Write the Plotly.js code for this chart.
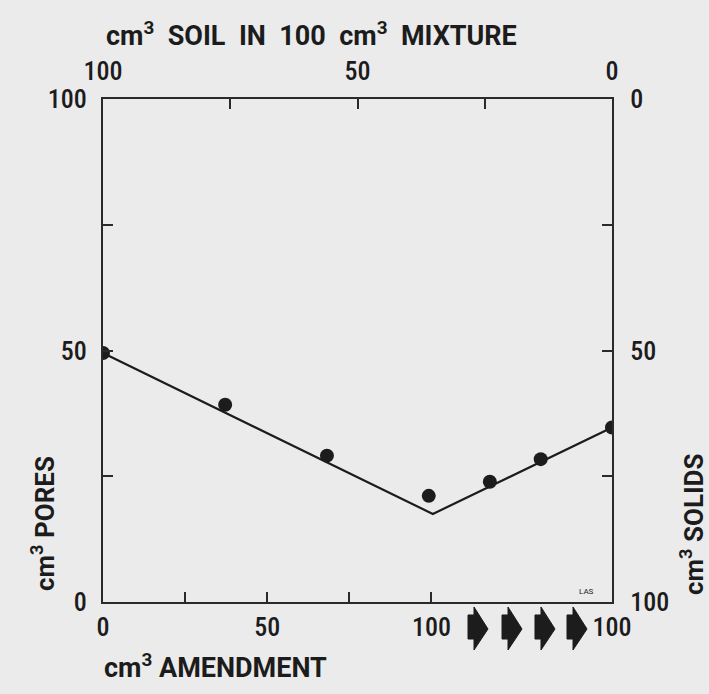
<!DOCTYPE html>
<html>
<head>
<meta charset="utf-8">
<script src="https://cdn.plot.ly/plotly-3.0.1.min.js"></script>
<style>
  html, body { margin: 0; padding: 0; background: #ebebeb; }
  #chart { width: 709px; height: 694px; }
</style>
</head>
<body>
<div id="chart"></div>
<script>
// ---- data ----
// x: cm3 soil in 100 cm3 mixture (top axis), y: cm3 pores (left axis)
const soilPoints  = [100, 76, 56, 36, 24, 14, 0];
const poresPoints = [49.5, 39.2, 29.1, 21.1, 23.9, 28.4, 34.7];
// fitted line
const soilLine  = [100, 35.2, 0];
const poresLine = [49.5, 17.5, 34.7];

// tick labels
const topTickVals   = [100, 50, 0];
const topTickText   = ['100', '50', '0'];
const topMinorVals  = [75, 25];
const amendTickVals = [0, 50, 100, 155];
const amendTickText = ['0', '50', '100', '100'];
const amendMinorVals = [25, 75];
const poreTickVals  = [0, 50, 100];
const poreTickText  = ['0', '50', '100'];
const poreMinorVals = [25, 75];
const solidTickVals = [0, 50, 100];
const solidTickText = ['0', '50', '100'];
const solidMinorVals = [25, 75];

// ---- styling ----
const NUMFONT = '"Roboto Condensed", Roboto, "Liberation Sans", sans-serif';
const TXTFONT = 'Roboto, "Liberation Sans", sans-serif';
const INK = '#1c1c1c';
const BG = '#ebebeb';
const W = 709, H = 694;
const M = {l: 103, r: 97, t: 99, b: 92};
const PW = W - M.l - M.r, PH = H - M.t - M.b;
const px2x = p => (p - M.l) / PW;
const py2y = p => (H - M.b - p) / PH;

// decorative arrows under the bottom axis
const arrowLefts = [468, 502, 535, 567];
const arrowTop = 607;
const arrowOutline = [[0,8],[6,8],[6,0],[20,22],[6,43],[6,32],[0,32]];
const shapes = arrowLefts.map(x0 => {
  const pts = arrowOutline.map(([dx, dy]) => `${px2x(x0 + dx).toFixed(4)},${py2y(arrowTop + dy).toFixed(4)}`);
  return {
    type: 'path', xref: 'paper', yref: 'paper',
    path: 'M' + pts.join(' L') + ' Z',
    fillcolor: INK, line: {color: INK, width: 1}
  };
});

const tickFont = {family: NUMFONT, size: 26, color: INK, weight: 500};
const titleFont = {family: TXTFONT, size: 27, color: INK, weight: 700};
const sideTitleFont = {family: TXTFONT, size: 26, color: INK, weight: 700};

function axis(extra, minorVals) {
  return Object.assign({
    showgrid: false, zeroline: false, showline: true,
    linecolor: '#2a2a2a', linewidth: 2,
    ticks: 'inside', ticklen: 10, tickwidth: 2, tickcolor: '#2a2a2a',
    tickmode: 'array',
    tickfont: tickFont,
    minor: {tickmode: 'array', tickvals: minorVals, ticks: 'inside', ticklen: 10, tickwidth: 2, tickcolor: '#2a2a2a', showgrid: false},
    fixedrange: true
  }, extra);
}

const traces = [
  {
    x: soilLine, y: poresLine, xaxis: 'x', yaxis: 'y',
    mode: 'lines', line: {color: INK, width: 2.2},
    hoverinfo: 'skip', showlegend: false
  },
  {
    x: soilPoints, y: poresPoints, xaxis: 'x', yaxis: 'y',
    mode: 'markers', marker: {color: INK, size: 14},
    showlegend: false
  },
  { // keeps secondary axes alive
    x: [0], y: [0], xaxis: 'x2', yaxis: 'y2',
    mode: 'markers', marker: {opacity: 0}, hoverinfo: 'skip', showlegend: false
  }
];

const layout = {
  width: W, height: H,
  margin: M,
  paper_bgcolor: BG, plot_bgcolor: BG,
  font: {family: TXTFONT, color: INK},
  showlegend: false,
  xaxis: axis({
    side: 'top', range: [100, 0],
    tickvals: topTickVals, ticktext: topTickText,
    ticklabelstandoff: 7
  }, topMinorVals),
  xaxis2: axis({
    side: 'bottom', overlaying: 'x', anchor: 'y', range: [0, 155],
    tickvals: amendTickVals, ticktext: amendTickText,
    ticklabelstandoff: 1
  }, amendMinorVals),
  yaxis: axis({
    side: 'left', range: [0, 100],
    tickvals: poreTickVals, ticktext: poreTickText,
    ticklabelstandoff: 9
  }, poreMinorVals),
  yaxis2: axis({
    side: 'right', overlaying: 'y', anchor: 'x', range: [100, 0],
    tickvals: solidTickVals, ticktext: solidTickText,
    ticklabelstandoff: 11
  }, solidMinorVals),
  shapes: shapes,
  annotations: [
    {
      text: 'cm<sup>3</sup>  SOIL  IN  100  cm<sup>3</sup>  MIXTURE',
      xref: 'paper', yref: 'paper', x: px2x(311), y: py2y(34),
      xanchor: 'center', yanchor: 'middle', showarrow: false,
      font: titleFont
    },
    {
      text: 'cm<sup>3</sup> AMENDMENT',
      xref: 'paper', yref: 'paper', x: px2x(102), y: py2y(666),
      xanchor: 'left', yanchor: 'middle', showarrow: false,
      font: titleFont
    },
    {
      text: 'cm<sup>3</sup> PORES',
      xref: 'paper', yref: 'paper', x: px2x(43), y: py2y(524),
      xanchor: 'center', yanchor: 'middle', showarrow: false, textangle: -90,
      font: sideTitleFont
    },
    {
      text: 'cm<sup>3</sup> SOLIDS',
      xref: 'paper', yref: 'paper', x: px2x(692), y: py2y(524),
      xanchor: 'center', yanchor: 'middle', showarrow: false, textangle: -90,
      font: sideTitleFont
    },
    {
      text: 'LAS',
      xref: 'paper', yref: 'paper', x: px2x(586), y: py2y(591),
      xanchor: 'center', yanchor: 'middle', showarrow: false,
      font: {family: TXTFONT, size: 8, color: INK}
    }
  ]
};

Plotly.newPlot('chart', traces, layout, {displayModeBar: false, staticPlot: true});
</script>
</body>
</html>
